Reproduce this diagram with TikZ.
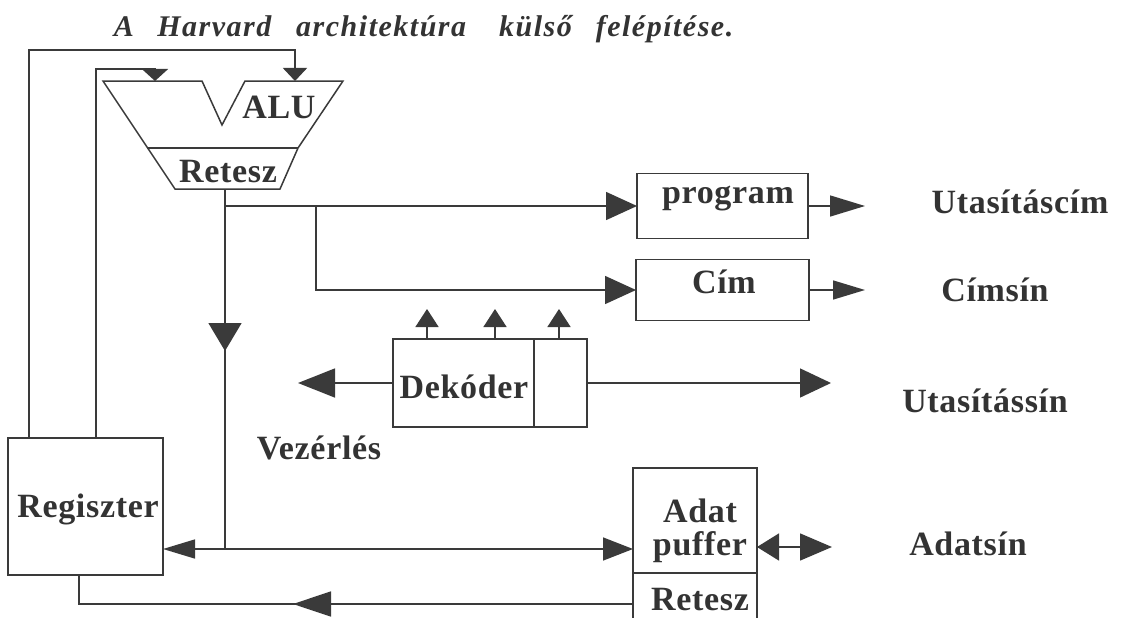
\documentclass[tikz,border=0pt]{standalone}
\usepackage{fontspec}
\setmainfont{Liberation Serif}[LetterSpace=2]
\usetikzlibrary{arrows.meta,decorations.markings}
\definecolor{ink}{HTML}{333333}
\definecolor{wire}{HTML}{3A3A3A}
\begin{document}
\begin{tikzpicture}[x=1pt,y=-1pt,line width=1.5pt,color=wire,
  lbl/.style={inner sep=0pt,anchor=base,text=ink,font=\fontsize{34}{40}\selectfont\bfseries},
  box/.style={draw,rectangle,inner sep=0pt,outer sep=0pt},
  ah/.style 2 args={-{Triangle[length=#1pt,width=#2pt]}},
  midarr/.style n args={3}{postaction={decorate},
    decoration={markings,mark=at position #1 with {\arrow{Triangle[length=#2pt,width=#3pt]}}}}]
\fill[white] (0,0) rectangle (1127,618);
\useasboundingbox (0,0) rectangle (1127,618);

% title
\node[anchor=base west,inner sep=0pt,text=ink,
  font=\fontsize{30}{36}\selectfont\bfseries\itshape\addfontfeatures{LetterSpace=5}] (title) at (113,37)
  {A\hspace{14.5pt} Harvard\hspace{16pt} architektúra\hspace{24pt} külső\hspace{15pt} felépítése.};

% ALU with its output latch
\draw (103,81) -- (202,81) -- (222,125) -- (245,81) -- (343,81) -- (298,148) -- (280,189)
      -- (175,189) -- cycle;
\draw (147,148) -- (298,148);
\node[lbl] (alu) at (279,118) {ALU};
\node[lbl] (aluret) at (228,182) {Retesz};
\coordinate (aluinA) at (295,81);
\coordinate (aluinB) at (155,81);
\coordinate (retout) at (225,189);

% blocks
\node[box,minimum width=155pt,minimum height=137pt] (reg) at (85.5,506.5) {};
\node[box,minimum width=171pt,minimum height=65pt] (prog) at (722.5,206) {};
\node[box,minimum width=173pt,minimum height=61pt] (cim) at (722.5,290) {};
\node[box,minimum width=194pt,minimum height=88pt] (dek) at (490,383) {};
\node[box,minimum width=124pt,minimum height=154pt] (adat) at (695,545) {};
\draw ([xshift=141pt]dek.north west) -- ([xshift=141pt]dek.south west);
\coordinate (adatdiv) at (0,573);
\draw (adat.west |- adatdiv) -- (adat.east |- adatdiv);

% labels
\node[lbl] (tprog) at (728,203) {program};
\node[lbl] (tcim) at (724,293) {Cím};
\node[lbl] (tdek) at (464,398) {Dekóder};
\node[lbl] (treg) at (88,517) {Regiszter};
\node[lbl] (tadat) at (700,522) {Adat};
\node[lbl] (tpuf) at (700,555) {puffer};
\node[lbl] (tret) at (700,610) {Retesz};
\node[lbl] (tvez) at (319,459) {Vezérlés};
\node[lbl] (utcim) at (1020,213) {Utasításcím};
\node[lbl] (cimsin) at (995,301) {Címsín};
\node[lbl] (utsin) at (985,412) {Utasítássín};
\node[lbl] (adsin) at (968,555) {Adatsín};

% feedback loops from the register file to the ALU inputs
\draw[ah={13}{24}] ([xshift=21pt]reg.north west) -- ++(0,-388) -| (aluinA);
\draw[ah={12}{26}] ([xshift=88pt]reg.north west) -- ++(0,-369) -| (aluinB);

% latch output
\coordinate (busY) at (0,549);
\coordinate (botY) at (0,604);
\coordinate (br) at (316,0);
\draw[midarr={162pt}{28}{33}] (retout) -- (retout |- busY);
\draw[ah={31}{28}] (retout |- prog.west) -- (prog.west);
\draw[ah={31}{28}] (br |- prog.west) |- (cim.west);

% outputs to the buses
\coordinate (progout) at (865,206);
\coordinate (cimout) at (865,290);
\draw[ah={35}{21}] (prog.east) -- (progout);
\draw[ah={32}{19}] (cim.east) -- (cimout);

% decoder
\coordinate (upA) at (427,309);
\coordinate (upB) at (495,309);
\coordinate (upC) at (559,309);
\foreach \u in {upA,upB,upC}
  \draw[ah={18}{23}] (\u |- dek.north) -- (\u);
\coordinate (dekL) at (298,383);
\coordinate (dekR) at (831,383);
\draw[ah={37}{29}] (dek.west) -- (dekL);
\draw[ah={31}{29}] (dek.east) -- (dekR);

% data bus
\draw[{Triangle[length=32pt,width=19pt]}-{Triangle[length=30pt,width=23pt]}]
  (reg.east |- busY) -- (adat.west |- busY);
\coordinate (adatR) at (832,547);
\draw[{Triangle[length=22pt,width=27pt]}-{Triangle[length=32pt,width=27pt]}]
  (adat.east |- adatR) -- (adatR);
\draw[midarr={340pt}{38}{25}] (adat.west |- botY) -| ([xshift=71pt]reg.south west);
\end{tikzpicture}
\end{document}
